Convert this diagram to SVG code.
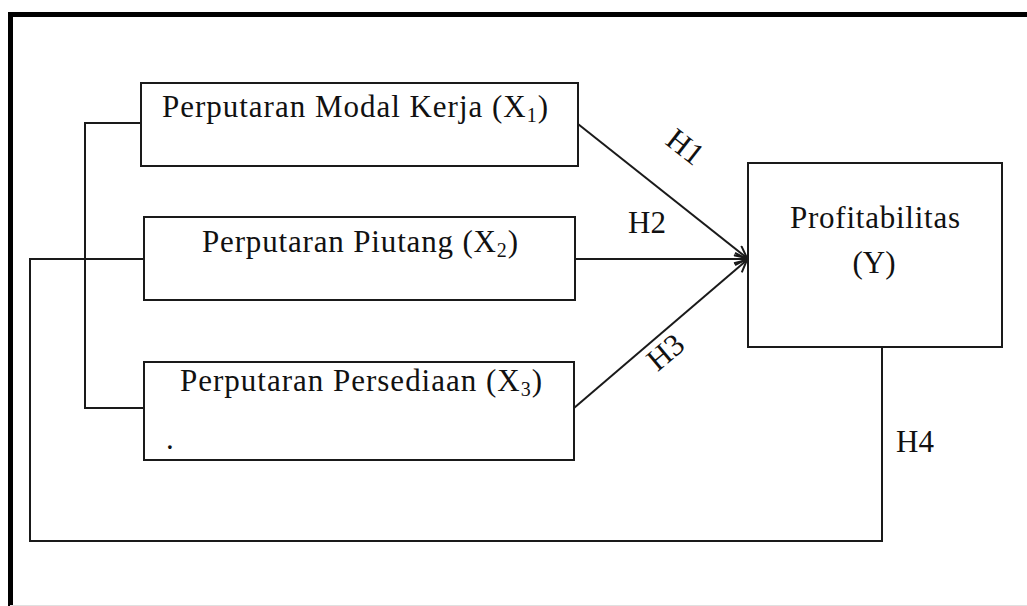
<svg xmlns="http://www.w3.org/2000/svg" width="1027" height="606" viewBox="0 0 1027 606">
<defs>
<style>
.box{fill:#fff;stroke:#1a1a1a;stroke-width:2}
.ln{fill:none;stroke:#1a1a1a;stroke-width:2}
.t{font-family:"Liberation Serif","Times New Roman",serif;font-size:31px;fill:#111}
.sub{font-size:20px}
</style>
<marker id="arr" markerWidth="14" markerHeight="14" refX="13" refY="7" orient="auto" markerUnits="userSpaceOnUse">
<path d="M1,1 L13,7 L1,13" fill="none" stroke="#1a1a1a" stroke-width="2"/>
</marker>
</defs>
<rect width="1027" height="606" fill="#fff"/>
<g id="frame">
<line x1="8" y1="14.5" x2="1027" y2="14.5" stroke="#000" stroke-width="5"/>
<line x1="10.5" y1="12" x2="10.5" y2="606" stroke="#000" stroke-width="5"/>
<line x1="10" y1="605.5" x2="1027" y2="605.5" stroke="#e0e0e0" stroke-width="1"/>
</g>
<g id="connectors">
<polyline class="ln" points="141,123 85,123 85,408 144,408"/>
<polyline class="ln" points="144,259 30,259 30,541 882,541 882,347"/>
<line class="ln" x1="578" y1="124" x2="747" y2="258" marker-end="url(#arr)"/>
<line class="ln" x1="575" y1="259" x2="747" y2="259" marker-end="url(#arr)"/>
<line class="ln" x1="574" y1="408" x2="747" y2="260" marker-end="url(#arr)"/>
<text class="t" transform="translate(679,155) rotate(38)" text-anchor="middle" font-size="29">H1</text>
<text class="t" x="647" y="233" text-anchor="middle">H2</text>
<text class="t" transform="translate(672,360) rotate(-40)" text-anchor="middle" font-size="29">H3</text>
<text class="t" x="915" y="452" text-anchor="middle">H4</text>
</g>
<g id="x1">
<rect class="box" x="141" y="83" width="437" height="83"/>
<text class="t" x="162" y="117" textLength="386" lengthAdjust="spacing">Perputaran Modal Kerja (X<tspan class="sub" dy="5">1</tspan><tspan dy="-5">)</tspan></text>
</g>
<g id="x2">
<rect class="box" x="144" y="217" width="431" height="83"/>
<text class="t" x="202" y="252" textLength="316" lengthAdjust="spacing">Perputaran Piutang (X<tspan class="sub" dy="5">2</tspan><tspan dy="-5">)</tspan></text>
</g>
<g id="x3">
<rect class="box" x="144" y="362" width="430" height="98"/>
<text class="t" x="180" y="391" textLength="362" lengthAdjust="spacing">Perputaran Persediaan (X<tspan class="sub" dy="5">3</tspan><tspan dy="-5">)</tspan></text>
<text class="t" x="166" y="449" font-size="9" fill="#446">.</text>
</g>
<g id="y">
<rect class="box" x="748" y="163" width="254" height="184"/>
<text class="t" x="790" y="228" textLength="170" lengthAdjust="spacing">Profitabilitas</text>
<text class="t" x="874" y="273" text-anchor="middle">(Y)</text>
</g>
</svg>
